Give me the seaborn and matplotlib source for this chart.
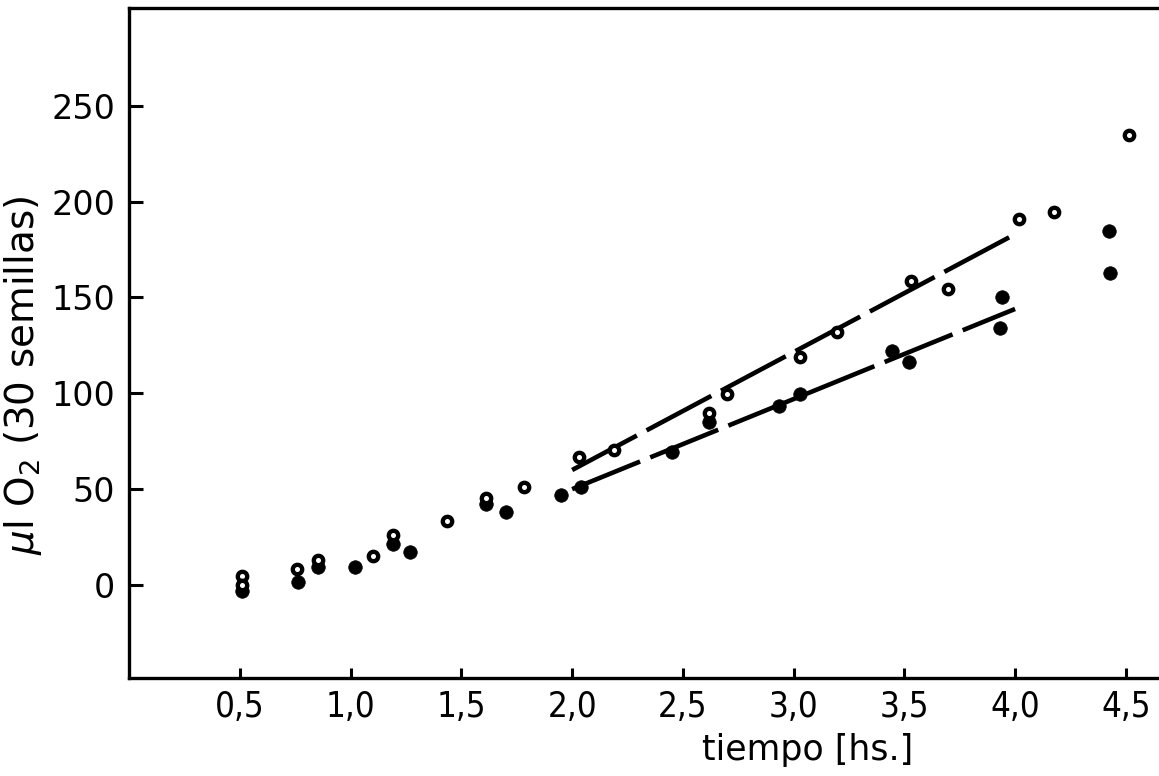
import matplotlib
matplotlib.use("Agg")
import matplotlib.pyplot as plt
import seaborn as sns
import pandas as pd

# Data
open_x = [0.51, 0.51, 0.756, 0.851, 1.10, 1.19, 1.435, 1.61, 1.784, 2.03,
          2.19, 2.617, 2.70, 3.03, 3.195, 3.528, 3.695, 4.02, 4.175, 4.515]
open_y = [4.9, 0.0, 8.5, 12.9, 15.3, 26.3, 33.4, 45.6, 51.0, 67.0,
          70.5, 89.9, 99.7, 118.7, 132.2, 158.5, 154.3, 191.0, 194.8, 235.0]

filled_x = [0.51, 0.76, 0.851, 1.02, 1.19, 1.27, 1.61, 1.70, 1.95, 2.04,
            2.45, 2.617, 2.933, 3.03, 3.445, 3.523, 3.93, 3.94, 4.426, 4.43]
filled_y = [-3.0, 1.7, 9.6, 9.6, 21.2, 17.4, 42.1, 37.9, 47.1, 51.3,
            69.3, 84.9, 93.4, 99.7, 122.3, 116.4, 134.0, 150.5, 184.8, 162.7]

fit_x = [2.0, 4.0]
open_fit_y = [60.0, 183.0]
filled_fit_y = [50.0, 144.0]

x_ticks = [0.5, 1.0, 1.5, 2.0, 2.5, 3.0, 3.5, 4.0, 4.5]
x_tick_labels = ["0,5", "1,0", "1,5", "2,0", "2,5", "3,0", "3,5", "4,0", "4,5"]
y_ticks = [0, 50, 100, 150, 200, 250]

sns.set_theme(style="white")
plt.rcParams['font.family'] = ['DejaVu Sans']

fig = plt.figure(figsize=(11.59, 7.76), dpi=100)
ax = fig.add_axes([0.1115, 0.1263, 0.8885, 0.8634])

df_open = pd.DataFrame({"x": open_x, "y": open_y})
df_filled = pd.DataFrame({"x": filled_x, "y": filled_y})
df_ofit = pd.DataFrame({"x": fit_x, "y": open_fit_y})
df_ffit = pd.DataFrame({"x": fit_x, "y": filled_fit_y})

sns.lineplot(data=df_ofit, x="x", y="y", ax=ax, color="black", linewidth=3.3,
             dashes=False, zorder=2)
sns.lineplot(data=df_ffit, x="x", y="y", ax=ax, color="black", linewidth=3.3,
             dashes=False, zorder=2)
for ln in ax.lines:
    ln.set_linestyle((0, (16, 2.4)))
    ln.set_solid_capstyle("butt")

sns.scatterplot(data=df_filled, x="x", y="y", ax=ax, color="black", s=95,
                edgecolor="black", linewidth=0.5, zorder=3)
sns.scatterplot(data=df_open, x="x", y="y", ax=ax, facecolor="white", s=46,
                edgecolor="black", linewidth=3.1, zorder=4)

ax.set_xlim(0, 4.65)
ax.set_ylim(-48.5, 301)
ax.set_xticks(x_ticks)
ax.set_xticklabels(x_tick_labels)
ax.set_yticks(y_ticks)
ax.tick_params(axis="both", direction="in", width=2.2, color="black",
               labelsize=24, labelcolor="black", bottom=True, left=True)
ax.tick_params(axis="y", length=10, pad=10)
ax.tick_params(axis="x", length=7, pad=9)
for lab in ax.get_xticklabels():
    lab.set_fontstretch("condensed")
    lab.set_fontsize(25)

for side in ["left", "top", "bottom"]:
    ax.spines[side].set_visible(True)
    ax.spines[side].set_linewidth(2.4)
    ax.spines[side].set_color("black")
ax.spines["right"].set_visible(False)

ax.set_xlabel("tiempo [hs.]", fontsize=25, color="black")
ax.xaxis.set_label_coords(0.659, -0.082)
ax.set_ylabel(r"$\mu$l O$_2$ (30 semillas)", fontsize=28, color="black")
ax.yaxis.set_label_coords(-0.083, 0.452)

fig.savefig("out.png", dpi=100)
